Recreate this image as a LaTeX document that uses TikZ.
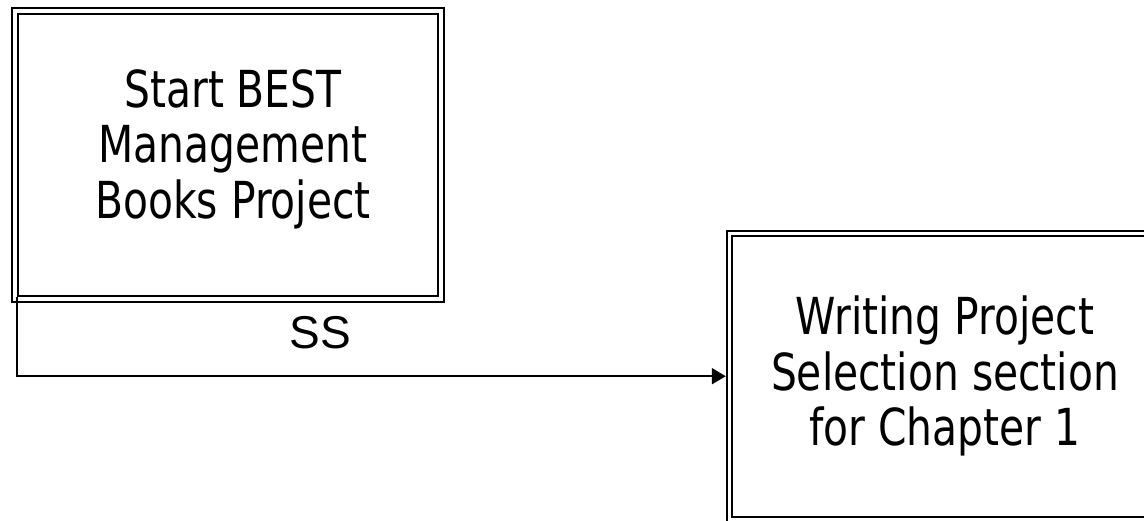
\documentclass[tikz,border=0pt]{standalone}
\usepackage{fontspec}
\setmainfont{Liberation Sans}
\newfontfamily\boxfont[FakeStretch=0.8]{DejaVu Sans}
\usetikzlibrary{arrows.meta}
\tikzset{
  boxline/.style={draw=black, line width=2.4pt, inner sep=0pt, fill=none},
  boxtext/.style={font=\boxfont\fontsize{51pt}{55.5pt}\selectfont, align=center, inner sep=0pt},
  conn/.style={draw=black, line width=2pt, -{Triangle[length=14pt,width=16pt]}},
  lbl/.style={font=\fontsize{46pt}{50pt}\selectfont, inner sep=0pt}
}
\begin{document}
\begin{tikzpicture}[x=1pt,y=1pt]
\useasboundingbox[fill=white] (0,0) rectangle (1144,-520);
% box 1
\node[boxline, minimum width=432pt, minimum height=294pt] (b1o) at (228,-155) {};
\node[boxline, minimum width=420pt, minimum height=282pt] (b1) at (228,-155) {};
\node[boxtext] (t1) at (233,-149) {Start BEST\\Management\\Books Project};
% box 2
\node[boxline, minimum width=440pt, minimum height=292pt] (b2o) at (947,-377) {};
\node[boxline, minimum width=420pt, minimum height=281pt] (b2) at (942,-376.5) {};
\node[boxtext] (t2) at (945,-376) {Writing Project\\Selection section\\for Chapter 1};
% connector
\coordinate (bend) at ([yshift=-79pt]b1.south west);
\draw[conn] (b1.south west) -- (bend) -- (bend -| b2o.west);
\node[lbl] (ss) at (320,-333) {SS};
\end{tikzpicture}
\end{document}
